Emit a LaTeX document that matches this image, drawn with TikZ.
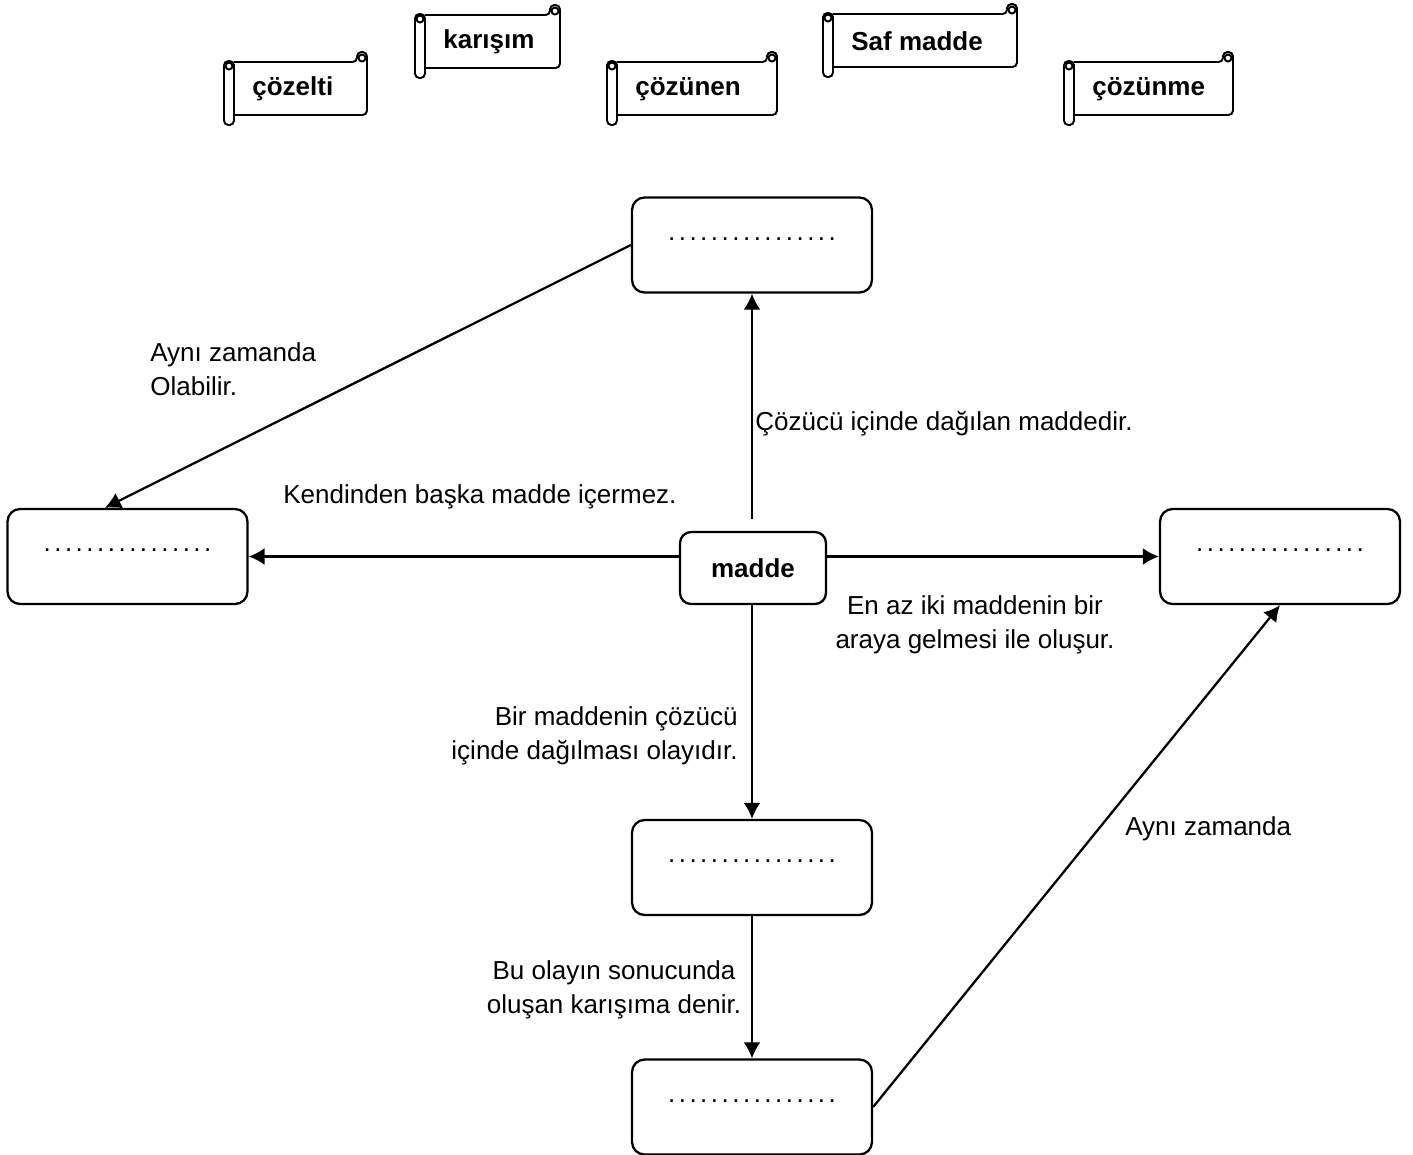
\documentclass[tikz,border=0pt]{standalone}
\usepackage{fontspec}
\setmainfont{Liberation Sans}
\usetikzlibrary{arrows.meta}

\newcommand{\dotrow}{\foreach \i in {1,...,16}{\makebox[0.214cm]{.}}\hspace{0.48cm}}

\begin{document}
\begin{tikzpicture}
[x=0.02cm,y=-0.02cm,%
  font=\fontsize{14.8}{19.3}\selectfont,%
  linedecorate/.style={-{Latex[length=0.32cm,width=0.34cm]},line width=1.3pt},%
  boxdecorate/.style={shape=rectangle,draw,line width=1.3pt,rounded corners=0.25cm,minimum width=4.8cm,minimum height=1.9cm,text height=0.05cm,text depth=0.24cm},%
  maddedecorate/.style={shape=rectangle,draw,line width=1.3pt,rounded corners=0.22cm,minimum width=2.92cm,minimum height=1.44cm,font=\fontsize{14.8}{19.3}\selectfont\bfseries},%
  scrolldecorate/.style={line width=1.1pt,rounded corners=2.5pt},%
  worddecorate/.style={anchor=west,inner sep=0pt,font=\fontsize{14.8}{19.3}\selectfont\bfseries},%
  textdecorate/.style={inner sep=0pt}]
\useasboundingbox (0,0) rectangle (1413,1154);
%% word list on scrolls: name / left of body / top / body width / word
\foreach \nodename/\x/\y/\w/\word in {
cozelti/234/62/133/çözelti, karisim/425/15/135/karışım, cozunen/617/62/160/çözünen,
safmadde/833/14/184/Saf madde, cozunme/1074/62/159/çözünme}
{
  \draw[scrolldecorate] (\x,\y) -- (\x+\w-10,\y) -- (\x+\w-10,\y-10) -- (\x+\w,\y-10) -- (\x+\w,\y+53) -- (\x,\y+53);
  \draw[scrolldecorate] (\x-10,\y-1) rectangle (\x,\y+63);
  \draw[line width=1.1pt] (\x+\w-5,\y-4) circle[radius=0.07cm];
  \draw[line width=1.1pt] (\x-5,\y+4) circle[radius=0.07cm];
  \node (\nodename) at (\x+18,\y+27) [worddecorate] {\word};
}
%% empty boxes of the map
\foreach \nodename/\x/\y in {topbox/752/245, leftbox/127.5/556.5, rightbox/1280/556.5, midbox/752/867.5, lowbox/752/1107}
{
  \node (\nodename) at (\x,\y) [boxdecorate] {\dotrow};
}
\node (madde) at (753,568) [maddedecorate] {madde};
%% edges
\draw[linedecorate,shorten <=0.24cm] (madde.north -| topbox.south) -- (topbox.south);
\draw[linedecorate] (madde.west |- leftbox.east) -- (leftbox.east);
\draw[linedecorate] (madde.east |- rightbox.west) -- (rightbox.west);
\draw[linedecorate] (madde.south -| midbox.north) -- (midbox.north);
\draw[linedecorate] (midbox.south) -- (lowbox.north);
\draw[linedecorate] (topbox.west) -- (leftbox.115);
\draw[linedecorate] (lowbox.east) -- (rightbox.south);
%% edge labels
\node (olabilir) at (150,369) [textdecorate,anchor=west,align=left] {Aynı zamanda\\Olabilir.};
\node (dagilan) at (755,424) [textdecorate,anchor=west] {Çözücü içinde dağılan maddedir.};
\node (icermez) at (283,497) [textdecorate,anchor=west] {Kendinden başka madde içermez.};
\node (enaz) at (975,625) [textdecorate,align=center] {En az iki maddenin bir\\araya gelmesi ile oluşur.};
\node (olayidir) at (738,736) [textdecorate,anchor=east,align=right] {Bir maddenin çözücü\\içinde dağılması olayıdır.};
\node (aynizamanda) at (1125,829) [textdecorate,anchor=west] {Aynı zamanda};
\node (denir) at (614,990) [textdecorate,align=center] {Bu olayın sonucunda\\oluşan karışıma denir.};
\end{tikzpicture}
\end{document}
